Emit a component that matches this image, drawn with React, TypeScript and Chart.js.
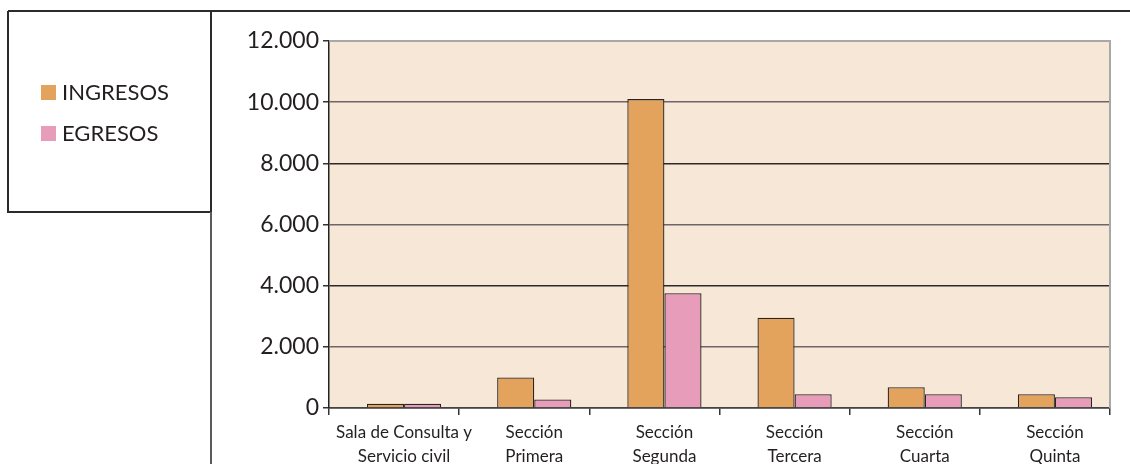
import React, { useEffect, useRef } from "react";
import { Chart, registerables } from "chart.js";

Chart.register(...registerables);

const categories: string[][] = [
  ["Sala de Consulta y", "Servicio civil"],
  ["Sección", "Primera"],
  ["Sección", "Segunda"],
  ["Sección", "Tercera"],
  ["Sección", "Cuarta"],
  ["Sección", "Quinta"],
];
const seriesNames = ["INGRESOS", "EGRESOS"];
const ingresos = [140, 1000, 10100, 2950, 680, 450];
const egresos = [140, 280, 3750, 450, 450, 350];
const yTicks = [0, 2000, 4000, 6000, 8000, 10000, 12000];
const yTickLabels = ["0", "2.000", "4.000", "6.000", "8.000", "10.000", "12.000"];

const FONT = "Lato, 'Open Sans', sans-serif";
const TEXT = "#231f20";

const framePlugin = {
  id: "frame",
  afterLayout(chart: any) {
    const s = chart.scales.x;
    s.left += 10;
    s.right += 10;
    s.configure();
  },
  beforeDraw(chart: any) {
    const { ctx, chartArea } = chart;
    ctx.save();
    ctx.fillStyle = "#f7e7d6";
    ctx.fillRect(chartArea.left, chartArea.top, chartArea.right - chartArea.left, chartArea.bottom - chartArea.top);
    ctx.restore();
  },
  afterDraw(chart: any) {
    const { ctx, chartArea } = chart;
    ctx.save();
    ctx.strokeStyle = "#a8a8a8";
    ctx.lineWidth = 2;
    ctx.beginPath();
    ctx.moveTo(chartArea.left, chartArea.top);
    ctx.lineTo(chartArea.right, chartArea.top);
    ctx.lineTo(chartArea.right, chartArea.bottom);
    ctx.stroke();
    ctx.strokeStyle = "#2b2b2b";
    ctx.lineWidth = 2;
    ctx.beginPath();
    ctx.moveTo(8, 11);
    ctx.lineTo(1130, 11);
    ctx.moveTo(8, 11);
    ctx.lineTo(8, 212);
    ctx.lineTo(211, 212);
    ctx.moveTo(211, 11);
    ctx.lineTo(211, 212);
    ctx.stroke();
    ctx.strokeStyle = "#5a5a5a";
    ctx.beginPath();
    ctx.moveTo(211, 212);
    ctx.lineTo(211, 464);
    ctx.stroke();
    const ys = [85, 126];
    chart.data.datasets.forEach((ds: any, i: number) => {
      ctx.fillStyle = ds.backgroundColor;
      ctx.fillRect(41, ys[i], 15, 15);
      ctx.fillStyle = TEXT;
      ctx.font = `22px ${FONT}`;
      ctx.textAlign = "left";
      ctx.textBaseline = "alphabetic";
      ctx.fillText(ds.label, 62, ys[i] + 15);
    });
    ctx.restore();
  },
};

export default function App() {
  const ref = useRef<HTMLCanvasElement | null>(null);
  useEffect(() => {
    if (!ref.current) return;
    const chart = new Chart(ref.current, {
      type: "bar",
      data: {
        labels: categories,
        datasets: [
          {
            label: seriesNames[0],
            data: ingresos,
            backgroundColor: "#e3a35d",
            borderColor: "#2a2424",
            borderWidth: 1.3,
            categoryPercentage: 0.57,
            barPercentage: 1.0,
          },
          {
            label: seriesNames[1],
            data: egresos,
            backgroundColor: "#e79cba",
            borderColor: "#2a2424",
            borderWidth: 1.3,
            categoryPercentage: 0.57,
            barPercentage: 1.0,
          },
        ],
      },
      options: {
        animation: false,
        responsive: false,
        devicePixelRatio: 1,
        layout: { padding: { top: 41, right: 20, left: 0, bottom: 0 } },
        plugins: { legend: { display: false }, tooltip: { enabled: false }, title: { display: false } },
        scales: {
          x: {
            type: "category",
            position: "bottom",
            weight: 1,
            grid: { display: false, drawTicks: false },
            border: { display: false },
            ticks: {
              color: TEXT,
              font: { family: FONT, size: 17, lineHeight: 1.45 },
              padding: 12,
              maxRotation: 0,
              autoSkip: false,
            },
            afterFit: (s: any) => {
              s.height = 56;
            },
          },
          x2: {
            type: "category",
            position: "bottom",
            weight: 0,
            labels: categories.map((c) => c.join(" ")),
            grid: {
              display: true,
              drawOnChartArea: false,
              offset: true,
              tickLength: 7,
              color: "#333",
              lineWidth: 1.5,
            },
            border: { display: true, color: "#444", width: 1.5 },
            ticks: { display: false },
            afterFit: (s: any) => {
              s.height = 0;
            },
          },
          y: {
            min: 0,
            max: 12000,
            afterBuildTicks: (s: any) => {
              s.ticks = yTicks.map((v) => ({ value: v }));
            },
            ticks: {
              color: TEXT,
              font: { family: FONT, size: 23 },
              padding: 4,
              callback: (v: any) => yTickLabels[yTicks.indexOf(Number(v))] ?? "",
            },
            grid: {
              color: (c: any) => {
                const v = c.tick ? c.tick.value : 0;
                if (v === 12000) return "#a8a8a8";
                if (v % 4000 === 2000) return "#6e6666";
                return "#2a2a2a";
              },
              tickColor: "#333",
              lineWidth: 1.5,
              tickLength: 6,
            },
            border: { display: true, color: "#222", width: 1.5 },
            afterFit: (s: any) => {
              s.width = 329;
            },
          },
        },
      },
      plugins: [framePlugin],
    } as any);
    return () => chart.destroy();
  }, []);
  return (
    <div style={{ position: "fixed", left: 0, top: 0, width: 1130, height: 464, background: "#fff" }}>
      <canvas ref={ref} width={1130} height={464} style={{ display: "block" }} />
    </div>
  );
}
